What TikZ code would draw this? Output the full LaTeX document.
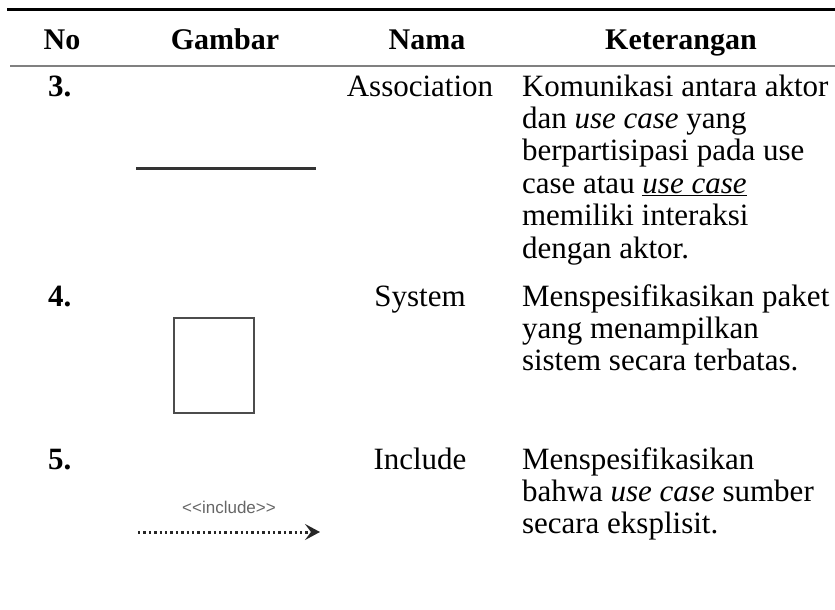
\documentclass[tikz,border=0pt]{standalone}
\usepackage{fontspec}
\setmainfont{Liberation Serif}
\setsansfont[Ligatures=NoCommon]{Liberation Sans}
\usetikzlibrary{arrows.meta}

\begin{document}
\begin{tikzpicture}[x=1pt,y=-1pt,
  every node/.style={inner sep=0pt,outer sep=0pt},
  bodyfont/.style={font=\fontsize{31}{32}\selectfont},
  head/.style={font=\fontsize{30}{32}\selectfont\bfseries, anchor=base},
  numcell/.style={font=\fontsize{31}{32}\selectfont\bfseries, anchor=base west},
  namecell/.style={bodyfont, anchor=base},
  desc/.style={bodyfont, anchor=base west},
  toprule/.style={line width=3pt, line cap=butt},
  midrule/.style={line width=2pt, draw=black!50},
  assocline/.style={line width=3pt, draw=black!80},
  sysbox/.style={draw=black!70, line width=2pt, minimum width=80pt, minimum height=95pt},
  incline/.style={line width=3pt, draw=black!85, dash pattern=on 2.4pt off 3pt,
    -{Stealth[length=15pt,width=16pt,inset=6pt]}},
  inclabel/.style={font=\sffamily\fontsize{17}{19}\selectfont, text=black!60, anchor=base}
]
\useasboundingbox (0,0) rectangle (835,610);

% table rules
\draw[toprule] (7,10) -- (835,10);
\draw[midrule] (10,66) -- (835,66);

% header row
\node[head] (hNo)   at (62,50)  {No};
\node[head] (hGbr)  at (225,50) {Gambar};
\node[head] (hNama) at (427,50) {Nama};
\node[head] (hKet)  at (681,50) {Keterangan};

% row 3: association
\node[numcell]  (n3) at (48,96)  {3.};
\node[namecell] (nm3) at (420,96) {Association};
\node[desc] (d3a) at (522,96)    {Komunikasi antara aktor};
\node[desc] (d3b) at (522,128.4) {dan \textit{use case} yang};
\node[desc] (d3c) at (522,160.8) {berpartisipasi pada use};
\node[desc] (d3d) at (522,193.2) {case atau \underline{\textit{use case}}};
\node[desc] (d3e) at (522,225.6) {memiliki interaksi};
\node[desc] (d3f) at (522,258)   {dengan aktor.};
\coordinate (assocL) at (136,168);
\coordinate (assocR) at (316,168);
\draw[assocline] (assocL) -- (assocR);

% row 4: system
\node[numcell]  (n4) at (48,306)  {4.};
\node[namecell] (nm4) at (420,306) {System};
\node[desc] (d4a) at (522,306)   {Menspesifikasikan paket};
\node[desc] (d4b) at (522,338.4) {yang menampilkan};
\node[desc] (d4c) at (522,370.8) {sistem secara terbatas.};
\node[sysbox] (sys) at (214,365.5) {};

% row 5: include
\node[numcell]  (n5) at (48,469)  {5.};
\node[namecell] (nm5) at (420,469) {Include};
\node[desc] (d5a) at (522,469)   {Menspesifikasikan};
\node[desc] (d5b) at (522,501.4) {bahwa \textit{use case} sumber};
\node[desc] (d5c) at (522,533.8) {secara eksplisit.};
\coordinate (incL) at (138,532);
\coordinate (incR) at (320,532);
\draw[incline] (incL) -- (incR);
\node[inclabel] (incText) at (229,513) {{<}{<}include{>}{>}};
\end{tikzpicture}
\end{document}
